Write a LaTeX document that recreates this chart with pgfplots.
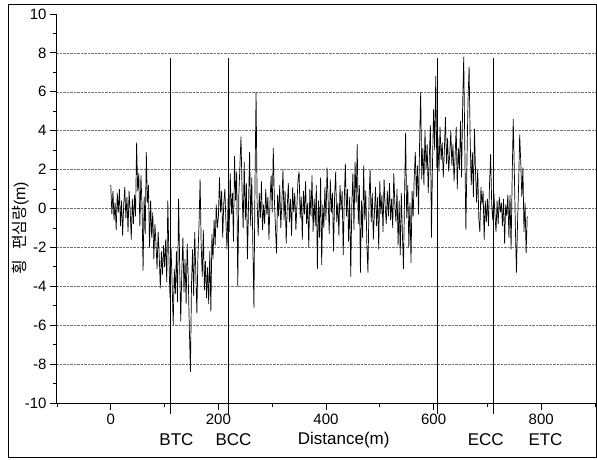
\documentclass[border=0pt]{standalone}
\usepackage{fontspec}
\setmainfont{Liberation Sans}
\newfontfamily\kr{Noto Sans CJK KR}
\usepackage{pgfplots}
\pgfplotsset{compat=1.18}
\usepackage{pgfplotstable}

% offset along the line, every 2 m
\pgfplotstableread[row sep=\\]{
d v\\
0 1.2\\ 2 -0.3\\ 4 0.9\\ 6 -0.6\\ 8 0.3\\ 10 -1.1\\ 12 0.8\\ 14 -0.2\\ 16 1.0\\ 18 -0.9\\
20 0.4\\ 22 -1.4\\ 24 0.2\\ 26 1.1\\ 28 -0.5\\ 30 0.6\\ 32 -1.2\\ 34 0.9\\ 36 -0.1\\ 38 -1.6\\
40 0.5\\ 42 -0.8\\ 44 0.7\\ 46 -0.4\\ 48 3.4\\ 50 0.9\\ 52 1.8\\ 54 -0.9\\ 56 1.7\\ 58 0.2\\
60 -3.2\\ 62 0.6\\ 64 -1.3\\ 66 2.9\\ 68 0.3\\ 70 1.2\\ 72 -2.0\\ 74 0.4\\ 76 -1.5\\ 78 -0.2\\
80 -2.6\\ 82 -0.8\\ 84 -1.8\\ 86 -3.1\\ 88 -1.2\\ 90 -2.4\\ 92 -4.1\\ 94 -2.2\\ 96 -3.4\\ 98 -1.9\\
100 -3.0\\ 102 -1.6\\ 104 -3.8\\ 106 0.4\\ 108 -2.5\\ 110 -4.6\\ 112 -2.0\\ 114 -3.9\\ 116 -6.0\\ 118 -3.1\\
120 -4.4\\ 122 -2.2\\ 124 -4.8\\ 126 0.5\\ 128 -2.9\\ 130 -5.8\\ 132 -3.2\\ 134 -1.5\\ 136 -4.3\\ 138 -2.6\\
140 -4.9\\ 142 -1.8\\ 144 -3.6\\ 146 -6.2\\ 148 -8.4\\ 150 -3.9\\ 152 -2.1\\ 154 -4.5\\ 156 -1.2\\ 158 -3.3\\
160 -5.4\\ 162 -2.4\\ 164 -0.8\\ 166 1.5\\ 168 -1.9\\ 170 -3.5\\ 172 -1.1\\ 174 -4.2\\ 176 -2.7\\ 178 -4.6\\
180 -3.0\\ 182 -4.9\\ 184 -2.2\\ 186 -5.3\\ 188 -1.3\\ 190 -2.6\\ 192 -0.6\\ 194 -1.9\\ 196 0.2\\ 198 -1.0\\
200 -0.4\\ 202 1.6\\ 204 -0.2\\ 206 0.9\\ 208 -1.5\\ 210 0.3\\ 212 1.0\\ 214 -0.7\\ 216 -2.1\\ 218 0.5\\
220 -1.2\\ 222 1.8\\ 224 -0.3\\ 226 0.8\\ 228 -1.7\\ 230 2.7\\ 232 0.4\\ 234 1.9\\ 236 -4.0\\ 238 0.7\\
240 2.2\\ 242 3.7\\ 244 0.9\\ 246 -1.0\\ 248 2.4\\ 250 -0.6\\ 252 1.3\\ 254 -2.6\\ 256 0.2\\ 258 2.9\\
260 -0.9\\ 262 1.6\\ 264 -1.8\\ 266 -5.1\\ 268 1.2\\ 270 6.0\\ 272 0.3\\ 274 -1.4\\ 276 0.8\\ 278 -0.5\\
280 1.4\\ 282 -1.1\\ 284 0.2\\ 286 -0.8\\ 288 1.0\\ 290 -0.3\\ 292 0.6\\ 294 -1.6\\ 296 0.4\\ 298 1.7\\
300 -0.2\\ 302 3.1\\ 304 0.5\\ 306 -0.9\\ 308 -2.3\\ 310 0.7\\ 312 -0.4\\ 314 1.2\\ 316 -1.0\\ 318 0.3\\
320 2.0\\ 322 -0.6\\ 324 0.9\\ 326 -1.8\\ 328 0.1\\ 330 1.3\\ 332 -0.7\\ 334 0.5\\ 336 -1.4\\ 338 1.1\\
340 -0.2\\ 342 0.8\\ 344 -1.1\\ 346 0.2\\ 348 1.5\\ 350 1.9\\ 352 -0.5\\ 354 0.6\\ 356 -1.6\\ 358 0.9\\
360 -0.3\\ 362 1.4\\ 364 -0.8\\ 366 0.3\\ 368 -2.0\\ 370 1.0\\ 372 -0.4\\ 374 1.7\\ 376 -1.2\\ 378 0.5\\
380 -0.9\\ 382 1.2\\ 384 -3.1\\ 386 0.4\\ 388 -1.5\\ 390 1.6\\ 392 -2.9\\ 394 0.2\\ 396 -1.0\\ 398 1.1\\
400 -0.6\\ 402 2.1\\ 404 0.4\\ 406 -1.3\\ 408 1.5\\ 410 -0.2\\ 412 0.8\\ 414 -2.2\\ 416 0.6\\ 418 1.9\\
420 -0.7\\ 422 0.3\\ 424 -1.4\\ 426 1.2\\ 428 -0.1\\ 430 0.9\\ 432 -2.4\\ 434 0.5\\ 436 2.3\\ 438 -0.4\\
440 1.0\\ 442 -1.7\\ 444 0.6\\ 446 -3.5\\ 448 0.2\\ 450 1.8\\ 452 -1.1\\ 454 2.4\\ 456 0.3\\ 458 3.3\\
460 -0.8\\ 462 1.2\\ 464 -3.3\\ 466 0.4\\ 468 -1.5\\ 470 2.2\\ 472 -0.6\\ 474 0.9\\ 476 -1.9\\ 478 -3.3\\
480 0.5\\ 482 2.0\\ 484 -0.7\\ 486 0.8\\ 488 -1.6\\ 490 -0.2\\ 492 1.1\\ 494 -0.9\\ 496 0.6\\ 498 -2.1\\
500 1.4\\ 502 -0.3\\ 504 0.7\\ 506 -1.2\\ 508 1.5\\ 510 0.1\\ 512 -0.8\\ 514 0.9\\ 516 -0.4\\ 518 1.3\\
520 -0.6\\ 522 0.5\\ 524 -1.0\\ 526 1.8\\ 528 0.2\\ 530 -0.7\\ 532 1.0\\ 534 -1.9\\ 536 0.4\\ 538 -2.4\\
540 0.8\\ 542 -1.3\\ 544 -3.1\\ 546 0.6\\ 548 3.9\\ 550 -0.5\\ 552 1.2\\ 554 -2.0\\ 556 0.3\\ 558 -2.8\\
560 0.9\\ 562 -0.4\\ 564 1.6\\ 566 2.9\\ 568 0.6\\ 570 2.2\\ 572 -0.3\\ 574 3.4\\ 576 6.0\\ 578 1.5\\
580 3.1\\ 582 1.2\\ 584 4.0\\ 586 2.0\\ 588 3.3\\ 590 0.8\\ 592 2.6\\ 594 4.3\\ 596 -1.5\\ 598 2.4\\
600 5.1\\ 602 3.0\\ 604 6.8\\ 606 2.1\\ 608 3.6\\ 610 1.9\\ 612 4.2\\ 614 2.5\\ 616 3.4\\ 618 1.6\\
620 3.0\\ 622 4.7\\ 624 2.3\\ 626 3.6\\ 628 1.9\\ 630 2.8\\ 632 4.0\\ 634 2.2\\ 636 3.3\\ 638 1.4\\
640 2.7\\ 642 4.2\\ 644 1.0\\ 646 3.1\\ 648 2.0\\ 650 4.5\\ 652 1.6\\ 654 5.3\\ 656 7.8\\ 658 3.2\\
660 -1.1\\ 662 2.4\\ 664 5.6\\ 666 7.3\\ 668 3.5\\ 670 1.2\\ 672 2.9\\ 674 0.6\\ 676 4.1\\ 678 1.8\\
680 0.3\\ 682 2.0\\ 684 -0.5\\ 686 -1.2\\ 688 1.1\\ 690 0.2\\ 692 0.9\\ 694 -1.6\\ 696 0.4\\ 698 -0.7\\
700 0.5\\ 702 -0.9\\ 704 1.3\\ 706 2.8\\ 708 0.2\\ 710 -0.6\\ 712 0.8\\ 714 -0.3\\ 716 -1.2\\ 718 0.4\\
720 -0.8\\ 722 0.6\\ 724 -0.2\\ 726 0.3\\ 728 -0.9\\ 730 0.5\\ 732 -1.8\\ 734 0.2\\ 736 -0.4\\ 738 0.7\\
740 -1.5\\ 742 0.7\\ 744 -2.1\\ 746 1.5\\ 748 4.6\\ 750 2.0\\ 752 -1.0\\ 754 -3.3\\ 756 -0.8\\ 758 1.2\\
760 3.8\\ 762 2.4\\ 764 0.6\\ 766 2.1\\ 768 -1.2\\ 770 0.3\\ 772 -2.3\\ 774 -0.4\\
}\offset

\begin{document}
\begin{tikzpicture}
\useasboundingbox (0pt,0pt) rectangle (597pt,459pt);
\draw[line width=1pt] (8pt,2pt) rectangle (596pt,454pt);
\begin{axis}[
    at={(57pt,56pt)}, anchor=south west,
    scale only axis, width=538pt, height=389pt,
    xmin=-100, xmax=900, ymin=-10, ymax=10,
    axis x line*=bottom, axis y line*=left,
    axis line style={-, line width=1pt},
    xtick={0,200,...,800}, minor xtick={-100,100,300,500,700,900},
    ytick={-10,-8,...,10}, minor ytick={-9,-7,...,9},
    tick align=outside, major tick length=7pt, minor tick length=4pt,
    tick style={black, line width=0.9pt},
    extra y ticks={-8,-6,...,8}, extra y tick labels={},
    extra y tick style={major tick length=0pt, grid=major,
        grid style={densely dotted, line width=0.6pt, black!55}},
    /pgf/number format/assume math mode=true,
    ticklabel style={font=\fontsize{15}{15}\selectfont},
    xlabel={Distance(m)},
    xlabel style={at={(axis description cs:0.533,-0.095)}, anchor=center,
        font=\fontsize{17}{17}\selectfont},
    ylabel={{\kr 횡\hspace{0.6em}편심량}(m)},
    ylabel style={at={(axis description cs:-0.068,0.45)}, anchor=center,
        font=\fontsize{16}{16}\selectfont},
    clip=false,
]
\addplot[black, line width=0.7pt] table[x=d, y=v] {\offset};
\addplot[black, line width=0.9pt] coordinates {(111,-10.55) (111,7.75)};
\addplot[black, line width=0.9pt] coordinates {(218,-10.55) (218,7.75)};
\addplot[black, line width=0.9pt] coordinates {(607,-10.55) (607,7.75)};
\addplot[black, line width=0.9pt] coordinates {(711,-10.55) (711,7.75)};
\node[font=\fontsize{17}{17}\selectfont] at (axis cs:122,-11.88) {BTC};
\node[font=\fontsize{17}{17}\selectfont] at (axis cs:228,-11.88) {BCC};
\node[font=\fontsize{17}{17}\selectfont] at (axis cs:697,-11.88) {ECC};
\node[font=\fontsize{17}{17}\selectfont] at (axis cs:808,-11.88) {ETC};
\end{axis}
\end{tikzpicture}
\end{document}
